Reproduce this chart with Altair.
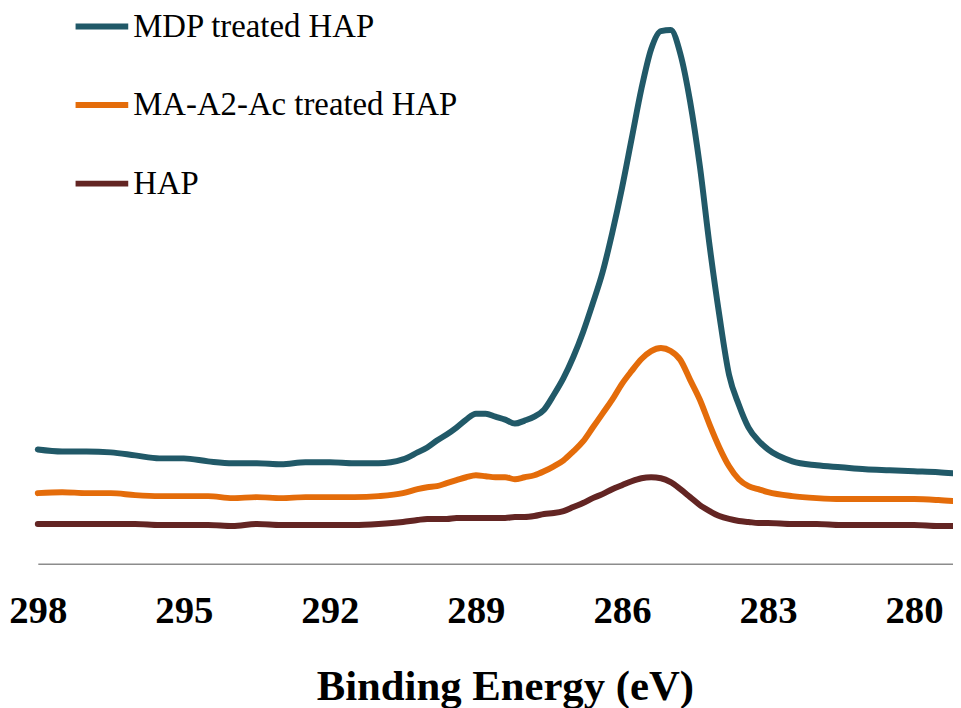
import altair as alt
import pandas as pd

energy = [298.0, 297.5, 297.0, 296.5, 296.0, 295.5, 295.0, 294.5, 294.0, 293.5,
          293.0, 292.5, 292.0, 291.5, 291.0, 290.5,
          290.2, 290.0, 289.8, 289.6, 289.4, 289.2, 289.0, 288.8, 288.6, 288.4,
          288.2, 288.0, 287.8, 287.6, 287.4, 287.2, 287.0, 286.8, 286.6, 286.4,
          286.2, 286.0, 285.8, 285.6, 285.4, 285.2, 285.0, 284.8, 284.6, 284.4,
          284.2, 284.0, 283.8, 283.6, 283.4, 283.2, 283.0,
          282.5, 282.0, 281.5, 281.0, 280.5, 280.0, 279.5, 279.2]

mdp = [115, 113, 113, 112, 109, 106, 106, 103, 101, 101,
       100, 102, 102, 101, 101, 105,
       112, 117, 124, 130, 137, 145, 151, 151, 148, 145,
       141, 144, 148, 155, 170, 187, 208, 233, 262, 293,
       333, 378, 428, 478, 518, 536, 537, 513, 465, 400,
       320, 250, 190, 160, 137, 124, 115,
       103, 99, 97, 95, 94, 93, 92, 91]

maa2 = [71, 72, 71, 71, 69, 68, 68, 68, 66, 67,
        66, 67, 67, 67, 68, 71,
        75, 77, 78, 81, 84, 87, 89, 88, 87, 87,
        85, 87, 89, 93, 98, 104, 113, 123, 137, 151,
        165, 181, 194, 206, 214, 217, 214, 205, 185, 165,
        140, 117, 98, 85, 78, 75, 72,
        68, 66, 65, 65, 65, 65, 64, 63]

hap = [40, 40, 40, 40, 40, 39, 39, 39, 38, 40,
       39, 39, 39, 39, 40, 42,
       44, 45, 45, 45, 46, 46, 46, 46, 46, 46,
       47, 47, 48, 50, 51, 53, 57, 61, 66, 70,
       75, 79, 83, 86, 87, 86, 82, 75, 67, 59,
       53, 48, 45, 43, 42, 41, 41,
       40, 40, 39, 39, 39, 39, 38, 38]

series = ["MDP treated HAP", "MA-A2-Ac treated HAP", "HAP"]
colors = ["#215968", "#E46C0A", "#632523"]
ticks = [298, 295, 292, 289, 286, 283, 280]

rows = []
for name, vals in zip(series, [mdp, maa2, hap]):
    for e, v in zip(energy, vals):
        rows.append({"energy": e, "intensity": v, "sample": name})
df = pd.DataFrame(rows)

FONT = "Liberation Serif"

chart = alt.Chart(df).mark_line(
    strokeWidth=6, strokeCap="round", strokeJoin="round", interpolate="monotone"
).encode(
    x=alt.X("energy:Q",
            scale=alt.Scale(domain=[298, 279.2], nice=False, zero=False),
            axis=alt.Axis(values=ticks, title="Binding Energy (eV)", grid=False,
                          ticks=False, domainColor="#8c8c8c", domainWidth=1.5,
                          labelFont=FONT, labelFontSize=39, labelFontWeight="bold",
                          labelColor="black", labelPadding=28,
                          titleFont=FONT, titleFontSize=43, titleFontWeight="bold",
                          titleColor="black", titlePadding=36, titleX=470,
                          labelFlush=False)),
    y=alt.Y("intensity:Q", scale=alt.Scale(domain=[0, 557], nice=False), axis=None),
    color=alt.Color("sample:N",
                    scale=alt.Scale(domain=series, range=colors),
                    sort=series,
                    legend=alt.Legend(title=None, orient="none", legendX=35, legendY=-13,
                                      symbolType="stroke", symbolSize=2809,
                                      symbolStrokeWidth=6, labelFont=FONT,
                                      labelFontSize=33, labelColor="black",
                                      labelOffset=2, rowPadding=32, padding=0,
                                      labelLimit=0)),
    order=alt.Order("energy:Q", sort="descending"),
).properties(
    width=921, height=557,
    autosize=alt.AutoSizeParams(type="none"),
    padding={"left": 30, "top": 0, "right": 0, "bottom": 143},
).configure_view(stroke=None)

chart.save("out.html", embed_options={"renderer": "svg", "actions": False})
